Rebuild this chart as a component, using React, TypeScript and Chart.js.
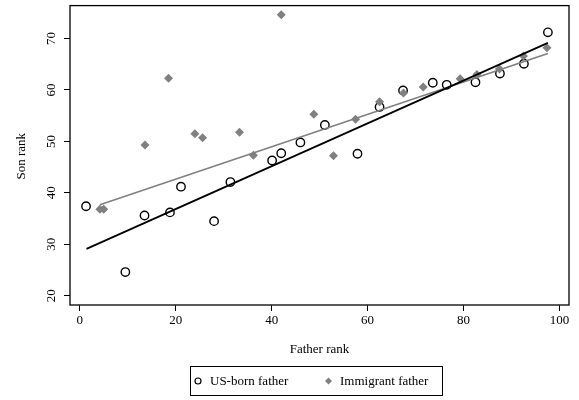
import React, { useEffect, useRef } from "react";
import { Chart, registerables } from "chart.js";

Chart.register(...registerables);

// US-born father (circles)
const usFatherRank = [1.3, 9.5, 13.5, 18.8, 21.1, 28.0, 31.4, 40.1, 42.0, 46.0, 51.1, 57.9, 62.5, 67.4, 73.6, 76.5, 82.5, 87.6, 92.6, 97.6];
const usSonRank = [37.4, 24.6, 35.6, 36.2, 41.2, 34.5, 42.1, 46.3, 47.7, 49.8, 53.2, 47.6, 56.7, 59.9, 61.4, 61.0, 61.5, 63.2, 65.1, 71.2];

// Immigrant father (diamonds)
const imFatherRank = [4.2, 5.0, 13.6, 18.5, 24.0, 25.6, 33.3, 36.2, 42.0, 48.8, 52.9, 57.5, 62.5, 67.5, 71.6, 79.3, 82.8, 87.5, 92.5, 97.4];
const imSonRank = [36.8, 36.8, 49.3, 62.3, 51.5, 50.7, 51.8, 47.3, 74.6, 55.3, 47.2, 54.3, 57.7, 59.4, 60.6, 62.2, 63.0, 64.1, 66.6, 68.2];

// Fitted lines (endpoints)
const usFitX = [1.4, 97.6];
const usFitY = [29.1, 69.15];
const imFitX = [4.2, 97.6];
const imFitY = [37.7, 67.1];

const xTicks = [0, 20, 40, 60, 80, 100];
const yTicks = [20, 30, 40, 50, 60, 70];

const xTitle = "Father rank";
const yTitle = "Son rank";
const legendLabels = ["US-born father", "Immigrant father"];

const FONT = "'Liberation Serif', 'Times New Roman', serif";
const GRAY = "#808080";

const pts = (xs: number[], ys: number[]) => xs.map((x, i) => ({ x, y: ys[i] }));

export default function App() {
  const ref = useRef<HTMLCanvasElement | null>(null);

  useEffect(() => {
    if (!ref.current) return;

    const decor = {
      id: "decor",
      beforeDatasetsDraw(chart: any) {
        const { ctx, chartArea: a } = chart;
        ctx.save();
        ctx.strokeStyle = "#000";
        ctx.lineWidth = 1.3;
        ctx.strokeRect(a.left, a.top, a.right - a.left, a.bottom - a.top);
        ctx.restore();
      },
      afterDraw(chart: any) {
        const { ctx, chartArea: a } = chart;
        const ys = chart.scales.y;
        ctx.save();
        ctx.fillStyle = "#000";
        ctx.font = `13px ${FONT}`;
        ctx.textAlign = "center";
        ctx.textBaseline = "middle";
        ctx.fillText(xTitle, (a.left + a.right) / 2, 350);

        // y tick labels, rotated
        yTicks.forEach((v) => {
          const py = ys.getPixelForValue(v);
          ctx.save();
          ctx.translate(52, py);
          ctx.rotate(-Math.PI / 2);
          ctx.fillText(String(v), 0, 0);
          ctx.restore();
        });

        ctx.save();
        ctx.translate(22, (a.top + a.bottom) / 2 + 1);
        ctx.rotate(-Math.PI / 2);
        ctx.fillText(yTitle, 0, 0);
        ctx.restore();

        // legend
        const bx = 190, by = 366, bw = 252, bh = 29;
        ctx.strokeStyle = "#000";
        ctx.lineWidth = 1;
        ctx.strokeRect(bx + 0.5, by + 0.5, bw, bh);
        const cy = by + bh / 2 + 0.5;
        ctx.beginPath();
        ctx.arc(198, cy, 3, 0, Math.PI * 2);
        ctx.lineWidth = 1.2;
        ctx.strokeStyle = "#000";
        ctx.stroke();
        ctx.beginPath();
        ctx.moveTo(328.5, cy - 3.5);
        ctx.lineTo(332, cy);
        ctx.lineTo(328.5, cy + 3.5);
        ctx.lineTo(325, cy);
        ctx.closePath();
        ctx.fillStyle = GRAY;
        ctx.fill();
        ctx.fillStyle = "#000";
        ctx.textAlign = "left";
        ctx.fillText(legendLabels[0], 210, cy + 1);
        ctx.fillText(legendLabels[1], 340, cy + 1);
        ctx.restore();
      },
    };

    const chart = new Chart(ref.current, {
      type: "scatter",
      data: {
        datasets: [
          {
            label: "US-born fit",
            type: "line",
            data: pts(usFitX, usFitY),
            borderColor: "#000",
            borderWidth: 1.8,
            pointRadius: 0,
            showLine: true,
            fill: false,
            order: 0,
          } as any,
          {
            label: "Immigrant fit",
            type: "line",
            data: pts(imFitX, imFitY),
            borderColor: GRAY,
            borderWidth: 1.6,
            pointRadius: 0,
            showLine: true,
            fill: false,
            order: 1,
          } as any,
          {
            label: legendLabels[1],
            data: pts(imFatherRank, imSonRank),
            pointStyle: "rectRot",
            pointRadius: 4.5,
            backgroundColor: GRAY,
            borderColor: GRAY,
            borderWidth: 0,
            order: 2,
          },
          {
            label: legendLabels[0],
            data: pts(usFatherRank, usSonRank),
            pointStyle: "circle",
            pointRadius: 4.2,
            backgroundColor: "rgba(255,255,255,0)",
            borderColor: "#000",
            borderWidth: 1.4,
            order: 3,
          },
        ],
      },
      options: {
        responsive: false,
        animation: false,
        devicePixelRatio: 1,
        layout: { padding: { top: 4, right: 10, left: 0, bottom: 0 } },
        plugins: {
          legend: { display: false },
          tooltip: { enabled: false },
        },
        scales: {
          x: {
            type: "linear",
            min: -2.04,
            max: 102,
            afterFit: (s: any) => {
              s.height = 95;
            },
            afterBuildTicks: (s: any) => {
              s.ticks = xTicks.map((v) => ({ value: v }));
            },
            grid: { drawOnChartArea: false, drawTicks: true, tickLength: 6, color: "#000", lineWidth: 1 },
            border: { display: false },
            ticks: { color: "#000", font: { family: FONT, size: 13 }, padding: 2, maxRotation: 0 },
          },
          y: {
            type: "linear",
            min: 18.2,
            max: 76.4,
            afterFit: (s: any) => {
              s.width = 70;
            },
            afterBuildTicks: (s: any) => {
              s.ticks = yTicks.map((v) => ({ value: v }));
            },
            grid: { drawOnChartArea: false, drawTicks: true, tickLength: 6, color: "#000", lineWidth: 1 },
            border: { display: false },
            ticks: { display: false },
          },
        },
      },
      plugins: [decor],
    });

    return () => chart.destroy();
  }, []);

  return (
    <div style={{ position: "fixed", left: 0, top: 0, width: 579, height: 400, background: "#fff" }}>
      <canvas ref={ref} width={579} height={400} style={{ width: 579, height: 400, display: "block" }} />
    </div>
  );
}
